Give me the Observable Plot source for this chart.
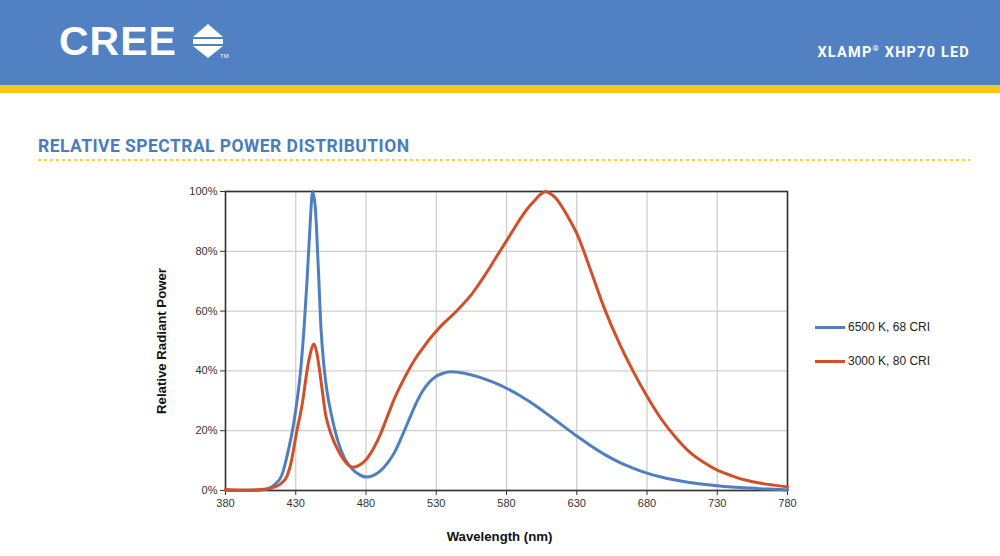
<!DOCTYPE html>
<html>
<head>
<meta charset="utf-8">
<script src="https://cdn.jsdelivr.net/npm/d3@7"></script>
<script src="https://cdn.jsdelivr.net/npm/@observablehq/plot@0.6"></script>
<style>
  body { margin:0; width:1000px; height:556px; position:relative; overflow:hidden; background:#fff; }
  .abs { position:absolute; }
  #chart { position:absolute; left:0; top:180px; }
  #chart g[aria-label="y-axis label"] text { font-weight:bold; font-size:13.2px; fill:#111; }
  .leg { position:absolute; font-family:"Liberation Sans", Arial, sans-serif; font-size:12px; color:#222; display:flex; align-items:center; }
  .leg span.sw { display:inline-block; width:30px; height:3px; margin-right:3px; }
</style>
</head>
<body>
<div class="abs" style="left:0;top:0;width:1000px;height:85px;background:#5181c3"></div>
<div class="abs" style="left:0;top:85px;width:1000px;height:8px;background:#f3c915"></div>
<div class="abs" style="left:59px;top:17px;font-family:'Liberation Sans',Arial,sans-serif;font-weight:bold;font-size:41px;color:#fff;letter-spacing:1px;line-height:48px;">CREE</div>
<svg class="abs" style="left:190px;top:22px" width="45" height="40" viewBox="0 0 45 40">
  <polygon points="3,15 18,2 33,15" fill="#fff"/>
  <rect x="3" y="17" width="30" height="5" fill="#fff"/>
  <polygon points="3,24 33,24 18,36" fill="#fff"/>
  <text x="30" y="36" font-size="6" fill="#fff" font-family="Liberation Sans, Arial">TM</text>
</svg>
<div class="abs" style="right:30px;top:44px;font-family:Roboto,'Open Sans',sans-serif;font-weight:bold;font-size:14.5px;color:#fff;letter-spacing:1.2px;">XLAMP<sup style="font-size:8px">®</sup> XHP70 LED</div>
<div class="abs" style="left:38px;top:136px;font-family:Roboto,'Open Sans',sans-serif;font-weight:bold;font-size:17.5px;color:#4c7bbe;letter-spacing:0.45px;">RELATIVE SPECTRAL POWER DISTRIBUTION</div>
<div class="abs" style="left:38px;top:159px;width:932px;height:1.5px;background:repeating-linear-gradient(to right,#f1d03a 0 3px,transparent 3px 6px);"></div>

<div class="leg" style="left:815px;top:320px;"><span class="sw" style="background:#4f7fc0"></span>6500 K, 68 CRI</div>
<div class="leg" style="left:815px;top:354px;"><span class="sw" style="background:#d0502a"></span>3000 K, 80 CRI</div>

<div id="chart"></div>
<script>
const xTicks = [380, 430, 480, 530, 580, 630, 680, 730, 780];
const yTicks = [0, 20, 40, 60, 80, 100];
const xLabel = "Wavelength (nm)";
const yLabel = "Relative Radiant Power";

const series6500Name = "6500 K, 68 CRI";
const nm6500 = [380,390,400,405,410,415,420,425,428,430,433,436,438,440,442,444,446,448,450,452,454,456,458,460,465,470,475,480,485,490,495,500,505,510,515,520,525,530,535,540,550,560,570,580,590,600,610,620,630,640,650,660,670,680,690,700,710,720,730,740,750,760,770,780];
const val6500 = [0,0,0.1,0.2,0.5,2,5,14,21,27,38,55,70,87,100,94,75,54,42,34,28.5,24,20,16.5,10.5,7.3,5.4,4.5,5,6.5,9,12.5,17.5,23,28.5,33,36.2,38.2,39.2,39.7,39.2,38.0,36.3,34.2,31.6,28.6,25.2,21.7,18.2,15,12,9.5,7.5,5.8,4.5,3.5,2.7,2.1,1.6,1.2,0.9,0.6,0.4,0.2];

const series3000Name = "3000 K, 80 CRI";
const nm3000 = [380,390,400,405,410,415,420,424,427,430,435,438,440,443,445,447,449,451,453,455,460,465,468,471,475,480,485,490,495,500,505,510,515,520,525,530,535,540,545,550,555,560,565,570,575,580,585,590,595,600,605,608,610,615,620,625,630,640,650,660,670,680,690,700,710,720,730,740,750,760,770,780];
const val3000 = [0.3,0.2,0.2,0.3,0.6,1.2,2.5,5,10,18,30,40,45,49,46,40,33,26,22,19,13.5,9.8,8.3,7.8,8.4,10.3,13.8,18.5,24.5,30.5,35.5,40,44,47.3,50.5,53.3,55.8,58,60.3,62.8,65.5,68.8,72.3,76,79.8,83.5,87.3,91,94.3,97,99.3,100,99.6,97.8,94.5,90.5,86,73.5,60.5,49.5,40,31.5,24,18,13,9.5,6.8,5,3.5,2.5,1.8,1.2];

const colors = {"6500 K, 68 CRI": "#4f7fc0", "3000 K, 80 CRI": "#d0502a"};

const d6500 = nm6500.map((x, i) => ({x, y: val6500[i], s: series6500Name}));
const d3000 = nm3000.map((x, i) => ({x, y: val3000[i], s: series3000Name}));

const chart = Plot.plot({
  width: 1000,
  height: 376,
  marginLeft: 225,
  marginRight: 213,
  marginTop: 11,
  marginBottom: 66,
  style: {fontFamily: "'Liberation Sans', Arial, sans-serif", fontSize: "11px", color: "#333", background: "transparent"},
  x: {domain: [380, 780]},
  y: {domain: [0, 100]},
  marks: [
    Plot.gridX(xTicks, {stroke: "#cfcfcf", strokeOpacity: 1, strokeWidth: 1.3}),
    Plot.gridY(yTicks, {stroke: "#cfcfcf", strokeOpacity: 1, strokeWidth: 1.3}),
    Plot.frame({stroke: "#333", strokeWidth: 1.6}),
    Plot.axisX({ticks: xTicks, tickSize: 5, tickPadding: 4, label: null}),
    Plot.text([xLabel], {frameAnchor: "bottom", dy: 50, dx: -7, fontWeight: "bold", fontSize: 13.2, fill: "#111"}),
    Plot.axisY({ticks: yTicks, tickFormat: d => d + "%", tickSize: 5, tickPadding: 3, label: yLabel, labelAnchor: "center", labelArrow: false, labelOffset: 69}),
    Plot.line(d6500, {x: "x", y: "y", stroke: colors[series6500Name], strokeWidth: 3, curve: "monotone-x"}),
    Plot.line(d3000, {x: "x", y: "y", stroke: colors[series3000Name], strokeWidth: 3, curve: "monotone-x"})
  ]
});
document.getElementById("chart").appendChild(chart);
</script>
</body>
</html>
